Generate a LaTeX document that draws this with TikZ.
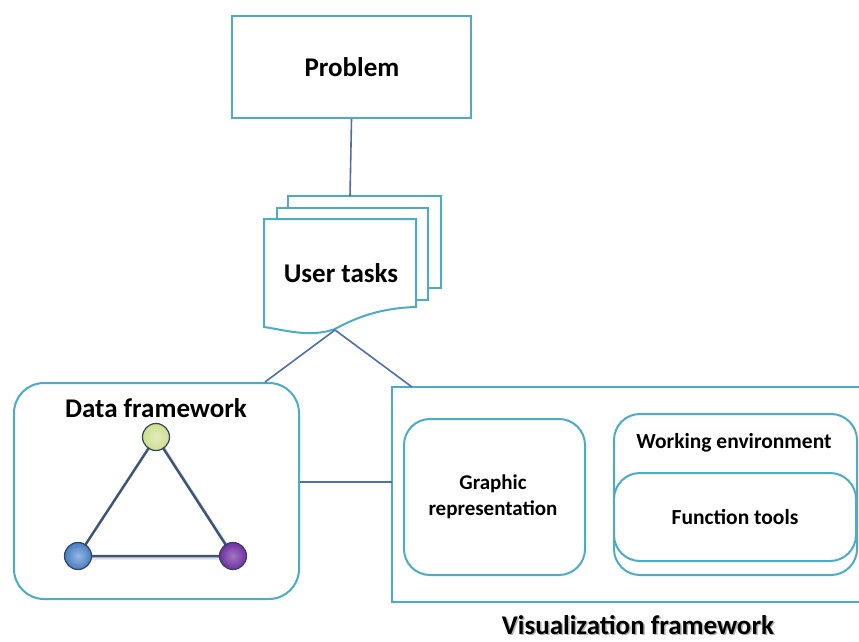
\documentclass[tikz,border=0pt]{standalone}
\usepackage{fontspec}
\setmainfont{Carlito}
\definecolor{teal}{RGB}{75,172,198}
\definecolor{conn}{RGB}{80,110,170}
\definecolor{edge}{RGB}{62,84,122}
\definecolor{ballG}{RGB}{205,222,140}
\definecolor{ballB}{RGB}{70,125,195}
\definecolor{ballP}{RGB}{112,48,160}
\tikzset{
  box/.style={draw=teal, line width=2pt, fill=white},
  rbox/.style={box, rounded corners=26pt},
  conline/.style={draw=conn, line width=1.6pt},
  lbl/.style={font=\bfseries, text=black, align=center},
  ball/.style={circle, minimum size=27pt, inner sep=0pt, draw=edge!80!black, line width=1.2pt},
  tri/.style={draw=edge, line width=2.5pt},
}
\begin{document}
\begin{tikzpicture}[x=1pt,y=-1pt]
\useasboundingbox (0,0) rectangle (859,642);
\begin{scope}
\clip (0,0) rectangle (859,642);
% Problem
\node[box, minimum width=239pt, minimum height=102pt, anchor=north west] (prob) at (231,15) {};
\node[lbl, font=\bfseries\fontsize{27}{30}\selectfont] (probt) at (352,67) {Problem};
% user tasks pages
\draw[box] (288,196) rectangle (441,288);
\draw[box] (277,208) rectangle (428,300);
\draw[box] (264,219) -- (416,219) -- (416,307)
   .. controls (380,308) and (355,318) .. (335,329)
   .. controls (310,338) and (285,330) .. (264,327) -- cycle;
\coordinate (utop) at (350,196);
\coordinate (ubot) at (335,330);
\node[lbl, font=\bfseries\fontsize{27}{30}\selectfont] (ut) at (341,273) {User tasks};
\draw[conline] (prob.south) -- (utop);
% Data framework
\node[rbox, rounded corners=30pt, minimum width=285pt, minimum height=216pt, anchor=north west] (data) at (13,382) {};
\node[lbl, font=\bfseries\fontsize{27}{30}\selectfont] (datat) at (156,408) {Data framework};
\coordinate (dtop) at (265,382);
% Visualization framework
\draw[box] (392,387) rectangle (880,602);
\coordinate (vleft) at (392,482);
\coordinate (vtop) at (412,387);
\draw[conline] (ubot) -- (dtop);
\draw[conline] (ubot) -- (vtop);
\draw[conline] (data.east |- vleft) -- (vleft);
% triangle
\coordinate (ga) at (156,437);
\coordinate (gb) at (78,556);
\coordinate (gc) at (233,556);
\draw[line width=3pt, black!12] ([shift={(2,2)}]ga) -- ([shift={(2,2)}]gc) -- ([shift={(2,2)}]gb);
\draw[tri] (ga) -- (gb) -- (gc) -- cycle;
\node[ball, inner color=ballG!55!white, outer color=ballG] (na) at (ga) {};
\node[ball, inner color=ballB!55!white, outer color=ballB] (nb) at (gb) {};
\node[ball, inner color=ballP!65!white, outer color=ballP] (nc) at (gc) {};
% Graphic representation
\node[rbox, minimum width=181pt, minimum height=156pt, anchor=north west] (graph) at (403,418) {};
\node[lbl, font=\bfseries\fontsize{21}{26}\selectfont] (grapht) at (493,497) {Graphic\\representation};
% working env
\node[rbox, minimum width=243pt, minimum height=161pt, anchor=north west] (work) at (613,413) {};
\node[rbox, minimum width=242pt, minimum height=88pt, anchor=north west] (func) at (613,472) {};
\node[lbl, font=\bfseries\fontsize{21.5}{24}\selectfont] (workt) at (734,443) {Working environment};
\node[lbl, font=\bfseries\fontsize{21.5}{24}\selectfont] (funct) at (735,517) {Function tools};
% title
\node[lbl, text=black!30, font=\bfseries\fontsize{27}{28}\selectfont, inner sep=0pt] (vtsh) at (639.5,626.5) {Visualization framework};
\node[lbl, font=\bfseries\fontsize{27}{28}\selectfont, inner sep=0pt] (vt) at (638,625) {Visualization framework};
\end{scope}
\end{tikzpicture}
\end{document}
